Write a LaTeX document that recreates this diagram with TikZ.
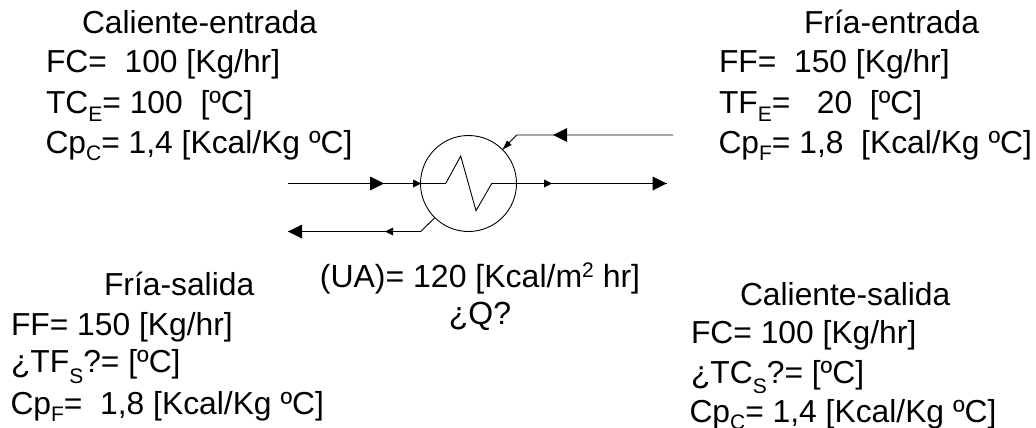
\documentclass[tikz,border=0pt]{standalone}
\usepackage{fontspec}
\setmainfont{Liberation Sans}
\tikzset{
  x=1pt,y=-1pt,
  lab/.style={anchor=base west,inner sep=0pt,outer sep=0pt,font=\fontsize{31.8}{36}\selectfont},
  cen/.style={anchor=base,inner sep=0pt,outer sep=0pt,font=\fontsize{32}{36}\selectfont},
  pipe/.style={line width=0.9pt,black},
}
\newcommand{\sbs}[2][7pt]{\raisebox{-#1}{\fontsize{21}{21}\selectfont #2}}
\newcommand{\sps}[1]{\raisebox{10pt}{\fontsize{21}{21}\selectfont #1}}
\begin{document}
\begin{tikzpicture}
\useasboundingbox (0,0) rectangle (1036,428);
% heat exchanger
\node[draw,circle,line width=0.9pt,minimum size=96pt,inner sep=0pt] (hx) at (468.5,183.5) {};
\coordinate (z1) at (445.7,183.5);
\coordinate (z2) at (460.7,156);
\coordinate (z3) at (476,210.7);
\coordinate (z4) at (491.7,183.5);
\draw[pipe] (hx.west) -- (z1) -- (z2) -- (z3) -- (z4) -- (hx.east);
% hot in
\coordinate (hotin) at (288,183.5);
\coordinate (hotinA) at (384,183.5);
\coordinate (hotinB) at (421,183.5);
\draw[pipe] (hotin) -- (hx.west);
\fill (hotinA) -- ++(-14,-7) -- ++(0,14) -- cycle;
\fill (hotinB) -- ++(-8,-4) -- ++(0,8) -- cycle;
% hot out
\coordinate (hotout) at (666.7,183.5);
\draw[pipe] (hx.east) -- (hotout);
\fill (hotout) -- ++(-14,-7) -- ++(0,14) -- cycle;
\coordinate (hotoutS) at (552,183.5);
\fill (hotoutS) -- ++(-8,-4) -- ++(0,8) -- cycle;
% cold in
\coordinate (coldin) at (673,135);
\coordinate (coldK) at (516.7,135);
\coordinate (coldEnd) at (502.5,149.5);
\draw[pipe] (coldin) -- (coldK) -- (coldEnd);
\coordinate (coldB) at (553,135);
\fill (coldB) -- ++(14,-7) -- ++(0,14) -- cycle;
\fill (coldEnd) -- (511.5,145) -- (507,140.5) -- cycle;
% cold out
\coordinate (outS) at (434.5,218);
\coordinate (outK) at (420.7,231.5);
\coordinate (outE) at (288,231.5);
\draw[pipe] (outS) -- (outK) -- (outE);
\fill (outE) -- ++(14,-7) -- ++(0,14) -- cycle;
\coordinate (outM) at (385,231.5);
\fill (outM) -- ++(8,-4) -- ++(0,8) -- cycle;
% texts
\node[lab] (t1) at (82,34) {Caliente-entrada};
\node[lab] (t2) at (46,73) {FC=\ \ 100 [Kg/hr]};
\node[lab] (t3) at (46,113) {TC\sbs[9pt]{E}= 100\ \ [ºC]};
\node[lab] (t4) at (45.5,153) {Cp\sbs{C}= 1,4 [Kcal/Kg ºC]};
\node[lab] (t5) at (804,34) {Fría-entrada};
\node[lab] (t6) at (719,73) {FF=\ \ 150 [Kg/hr]};
\node[lab] (t7) at (719,113) {TF\sbs[9pt]{E}=\ \ \ 20\ \ [ºC]};
\node[lab] (t8) at (718.5,153) {Cp\sbs{F}= 1,8\ \ [Kcal/Kg ºC]};
\node[lab] (t9) at (104,295) {Fría-salida};
\node[lab] (t10) at (11,335) {FF= 150 [Kg/hr]};
\node[lab] (t11) at (11,372) {¿TF\sbs[11pt]{S}?= [ºC]};
\node[lab] (t12) at (10.5,414) {Cp\sbs{F}=\ \ 1,8 [Kcal/Kg ºC]};
\node[cen] (t13) at (480,287) {(UA)= 120 [Kcal/m\sps{2} hr]};
\node[cen] (t14) at (480,324) {¿Q?};
\node[lab] (t15) at (740,305) {Caliente-salida};
\node[lab] (t16) at (691,343) {FC= 100 [Kg/hr]};
\node[lab] (t17) at (691,383) {¿TC\sbs[10pt]{S}?= [ºC]};
\node[lab] (t18) at (689.5,422) {Cp\sbs{C}= 1,4 [Kcal/Kg ºC]};
\end{tikzpicture}
\end{document}
